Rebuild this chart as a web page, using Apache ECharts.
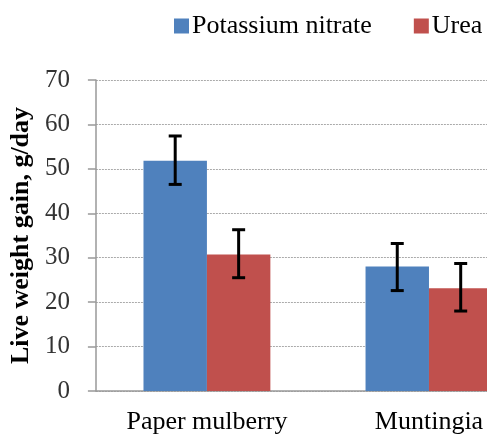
<!DOCTYPE html>
<html>
<head>
<meta charset="utf-8">
<script src="https://cdn.jsdelivr.net/npm/echarts@6/dist/echarts.min.js"></script>
<style>html,body{margin:0;padding:0;background:#fff;overflow:hidden;width:487px;height:439px;}#c{width:540px;height:439px;}</style>
</head>
<body>
<div id="c"></div>
<script>
var categories = ['Paper mulberry', 'Muntingia'];
var seriesNames = ['Potassium nitrate', 'Urea'];
var potassium = [51.8, 28.0];
var urea = [30.7, 23.1];
var potassiumLow = [46.5, 22.6];
var potassiumHigh = [57.4, 33.2];
var ureaLow = [25.5, 18.0];
var ureaHigh = [36.3, 28.7];
var yTicks = [0, 10, 20, 30, 40, 50, 60, 70];

var catGap = 0.4286;
var font = 'Liberation Serif, Times New Roman, serif';

var errData = [];
for (var i = 0; i < categories.length; i++) {
  errData.push([i, potassiumLow[i], potassiumHigh[i], 0]);
  errData.push([i, ureaLow[i], ureaHigh[i], 1]);
}

var chart = echarts.init(document.getElementById('c'));
chart.setOption({
  animation: false,
  color: ['#4F81BD', '#C0504D'],
  legend: {
    data: seriesNames,
    left: 169,
    top: 8,
    itemWidth: 15,
    itemHeight: 15,
    itemGap: 42,
    icon: 'rect',
    textStyle: { fontFamily: font, fontSize: 26, color: '#000', padding: [0, 0, 0, -2] }
  },
  grid: { left: 92, top: 80, bottom: 48, width: 448, containLabel: false },
  xAxis: {
    type: 'category',
    data: categories,
    axisLine: { lineStyle: { color: '#999', width: 1.5 } },
    axisTick: { length: 7, lineStyle: { color: '#999', width: 1.5 } },
    axisLabel: { fontFamily: font, fontSize: 26, color: '#000', margin: 18, interval: 0 }
  },
  yAxis: {
    type: 'value',
    min: 0,
    max: 70,
    interval: 10,
    name: 'Live weight gain, g/day',
    nameLocation: 'middle',
    nameGap: 59,
    nameTextStyle: { fontFamily: font, fontSize: 26, fontWeight: 'bold', color: '#000' },
    axisLine: { show: true, lineStyle: { color: '#999', width: 1.5 } },
    axisTick: { show: true, length: 8, lineStyle: { color: '#999', width: 1.5 } },
    axisLabel: {
      fontFamily: font, fontSize: 25, color: '#333', margin: 26,
      formatter: function (v) { return yTicks.indexOf(v) >= 0 ? String(v) : ''; }
    },
    splitLine: { show: true, lineStyle: { color: '#aaa', type: [2, 1], width: 1 } }
  },
  series: [
    { name: seriesNames[0], type: 'bar', data: potassium, barGap: '0%', barCategoryGap: (catGap * 100) + '%' },
    { name: seriesNames[1], type: 'bar', data: urea, barGap: '0%', barCategoryGap: (catGap * 100) + '%' },
    {
      type: 'custom',
      data: errData,
      z: 10,
      clip: false,
      renderItem: function (params, api) {
        var cat = api.value(0);
        var s = api.value(3);
        var band = api.size([1, 0])[0];
        var bw = band * (1 - catGap) / 2;
        var center = api.coord([cat, 0])[0];
        var x = center + (s === 0 ? -bw / 2 : bw / 2);
        var yl = api.coord([cat, api.value(1)])[1];
        var yh = api.coord([cat, api.value(2)])[1];
        var cap = 6.5;
        var st = { stroke: '#000', lineWidth: 3 };
        return {
          type: 'group',
          children: [
            { type: 'line', shape: { x1: x, y1: yl, x2: x, y2: yh }, style: st },
            { type: 'line', shape: { x1: x - cap, y1: yh, x2: x + cap, y2: yh }, style: st },
            { type: 'line', shape: { x1: x - cap, y1: yl, x2: x + cap, y2: yl }, style: st }
          ]
        };
      }
    }
  ]
});
</script>
</body>
</html>
